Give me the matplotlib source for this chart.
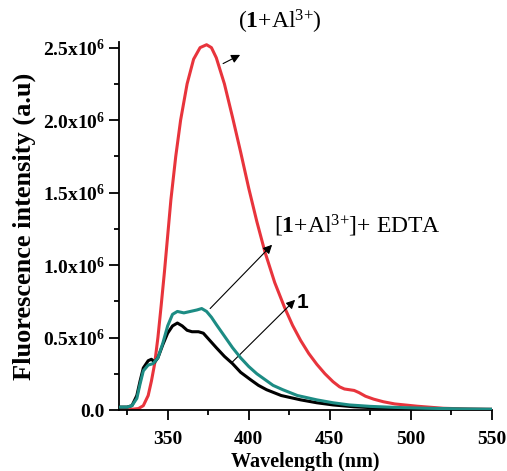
import matplotlib
matplotlib.use("Agg")
import matplotlib.pyplot as plt
from matplotlib.ticker import FuncFormatter, MultipleLocator

plt.rcParams["font.family"] = ["Liberation Serif", "DejaVu Serif"]
plt.rcParams["mathtext.fontset"] = "custom"
plt.rcParams["mathtext.rm"] = "Liberation Serif"
plt.rcParams["mathtext.bf"] = "Liberation Serif:bold"
plt.rcParams["mathtext.it"] = "Liberation Serif:italic"

# intensities in units of 1e6
wl_red = [320, 325, 328, 332, 335, 338, 340, 342, 344, 346, 348, 350, 352, 355, 358,
          362, 366, 370, 374, 377, 380, 385, 390, 395, 400, 405, 410, 416, 422, 427,
          432, 437, 442, 447, 452, 456, 459, 462, 465, 468, 472, 477, 483, 490, 504, 520,
          535, 550]
int_red = [0.0, 0.0, 0.005, 0.01, 0.03, 0.1, 0.2, 0.32, 0.5, 0.72, 0.95, 1.2, 1.45, 1.75, 2.0,
           2.25, 2.42, 2.5, 2.52, 2.5, 2.43, 2.25, 2.02, 1.78, 1.53, 1.3, 1.09, 0.88, 0.71, 0.585,
           0.48, 0.39, 0.315, 0.25, 0.195, 0.16, 0.145, 0.14, 0.135, 0.12, 0.095, 0.075, 0.057, 0.042, 0.026, 0.012,
           0.007, 0.005]

wl_edta = [320, 325, 328, 331, 333, 335, 338, 341, 344, 347, 350, 353, 356, 360, 364,
           368, 371, 374, 377, 380, 385, 390, 395, 400, 405, 410, 415, 421, 430, 442,
           452, 462, 475, 490, 510, 530, 550]
int_edta = [0.02, 0.02, 0.03, 0.08, 0.18, 0.27, 0.31, 0.32, 0.36, 0.46, 0.58, 0.66, 0.68, 0.67, 0.68,
            0.69, 0.70, 0.68, 0.64, 0.59, 0.51, 0.43, 0.36, 0.30, 0.25, 0.21, 0.17, 0.14, 0.10, 0.07,
            0.05, 0.035, 0.025, 0.018, 0.012, 0.008, 0.006]

wl_free = [320, 325, 328, 331, 333, 335, 338, 340, 342, 344, 347, 350, 353, 356, 359,
           362, 365, 369, 372, 376, 380, 385, 390, 395, 401, 406, 411, 420, 432, 442,
           452, 465, 480, 500, 525, 550]
int_free = [0.02, 0.02, 0.03, 0.1, 0.2, 0.29, 0.34, 0.35, 0.33, 0.36, 0.45, 0.53, 0.58, 0.60, 0.58,
            0.55, 0.54, 0.54, 0.53, 0.48, 0.43, 0.37, 0.32, 0.26, 0.21, 0.17, 0.14, 0.10, 0.07, 0.05,
            0.035, 0.022, 0.014, 0.008, 0.005, 0.003]

fig = plt.figure(figsize=(5.07, 4.71), dpi=100)
ax = fig.add_axes([0.2347, 0.1295, 0.7357, 0.7817])

ax.plot(wl_red, [v * 1e6 for v in int_red], color="#e8343c", lw=2.2, zorder=2)
ax.plot(wl_free, [v * 1e6 for v in int_free], color="black", lw=2.2, zorder=3)
ax.plot(wl_edta, [v * 1e6 for v in int_edta], color="#1c8c84", lw=2.2, zorder=4)

ax.set_xlim(320, 550)
ax.set_ylim(0, 2.54e6)
ax.spines["top"].set_visible(False)
ax.spines["right"].set_visible(False)
for s in ("left", "bottom"):
    ax.spines[s].set_linewidth(1.3)

ax.xaxis.set_major_locator(MultipleLocator(50))
ax.xaxis.set_minor_locator(MultipleLocator(25))
ax.yaxis.set_major_locator(MultipleLocator(0.5e6))
ax.yaxis.set_minor_locator(MultipleLocator(0.25e6))
ax.tick_params(which="major", length=7, width=1.3, labelsize=14)
ax.tick_params(which="minor", length=3.5, width=1.3)
ax.tick_params(axis="y", pad=3)
ax.tick_params(axis="x", pad=8)


def yfmt(v, pos):
    if abs(v) < 1:
        return "0.0"
    return "%.1fx10$^{\\mathbf{6}}$" % (v / 1e6)


ax.yaxis.set_major_formatter(FuncFormatter(yfmt))
for lbl in ax.get_xticklabels() + ax.get_yticklabels():
    lbl.set_fontweight("bold")

ax.set_xlabel("Wavelength (nm)", fontsize=14.5, fontweight="bold", labelpad=3)
fig.text(0.047, 0.52, "Fluorescence intensity (a.u)", fontsize=19, fontweight="bold",
         rotation=90, ha="center", va="center")

arrow = dict(arrowstyle="-|>", lw=0.8, color="black", mutation_scale=13, shrinkA=0, shrinkB=0)

ax.annotate("", xy=(394.7, 2.45e6), xytext=(384.2, 2.39e6), arrowprops=arrow,
            annotation_clip=False)
ax.text(393.5, 2.68e6, "($\\mathbf{1}$+Al$^{3{+}}$)", fontsize=17, va="center", ha="left",
        clip_on=False)

ax.annotate("", xy=(414.4, 1.14e6), xytext=(376.2, 0.70e6), arrowprops=arrow)
ax.text(415.7, 1.27e6, "[$\\mathbf{1}$+Al$^{3{+}}$]+ EDTA", fontsize=17, va="center", ha="left")

ax.annotate("", xy=(428.6, 0.76e6), xytext=(389.8, 0.33e6), arrowprops=arrow)
ax.text(429.5, 0.74e6, "1", fontsize=15, fontweight="bold", family="Liberation Sans",
        va="center", ha="left")

fig.savefig("out.png", dpi=100)
